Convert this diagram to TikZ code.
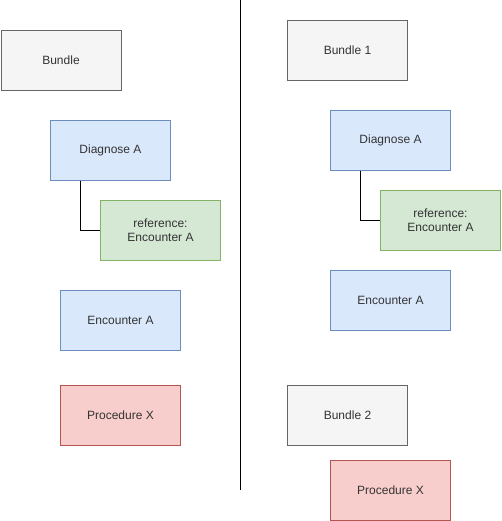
\documentclass[tikz,border=0pt]{standalone}
\usepackage{fontspec}
\setmainfont{Liberation Sans}
\definecolor{grayfill}{HTML}{F5F5F5}
\definecolor{graystroke}{HTML}{666666}
\definecolor{bluefill}{HTML}{DAE8FC}
\definecolor{bluestroke}{HTML}{6C8EBF}
\definecolor{greenfill}{HTML}{D5E8D4}
\definecolor{greenstroke}{HTML}{82B366}
\definecolor{redfill}{HTML}{F8CECC}
\definecolor{redstroke}{HTML}{B85450}
\definecolor{txt}{HTML}{333333}
\tikzset{
  box/.style={rectangle, draw, line width=1pt, minimum width=120pt, minimum height=60pt,
    inner sep=0pt, anchor=north west, align=center, text=txt,
    font=\fontsize{12}{14}\selectfont},
  graybox/.style={box, fill=grayfill, draw=graystroke},
  bluebox/.style={box, fill=bluefill, draw=bluestroke},
  greenbox/.style={box, fill=greenfill, draw=greenstroke},
  redbox/.style={box, fill=redfill, draw=redstroke},
  link/.style={line width=1pt, black},
}
\begin{document}
\begin{tikzpicture}[x=1pt, y=-1pt]
\useasboundingbox (0,0) rectangle (501,521);
% left column
\node[graybox] (bundle) at (0.5,30) {Bundle};
\node[bluebox] (diagL) at (50,120) {Diagnose A};
\node[greenbox] (refL) at (100,200) {reference:\\Encounter A};
\node[bluebox] (encL) at (60,290) {Encounter A};
\node[redbox] (procL) at (60,385) {Procedure X};
% right column
\node[graybox] (bundle1) at (287,20) {Bundle 1};
\node[bluebox] (diagR) at (330,110) {Diagnose A};
\node[greenbox] (refR) at (380,190) {reference:\\Encounter A};
\node[bluebox] (encR) at (330,270) {Encounter A};
\node[graybox] (bundle2) at (287,385) {Bundle 2};
\node[redbox] (procR) at (330,460) {Procedure X};
% divider
\coordinate (divTop) at (240,0);
\coordinate (divBot) at (240,490);
\draw[link] (divTop) -- (divBot);
% connectors
\draw[link] (diagL.south west) ++(30,0) coordinate (cL) -- (cL |- refL.west) -- (refL.west);
\draw[link] (diagR.south west) ++(30,0) coordinate (cR) -- (cR |- refR.west) -- (refR.west);
\end{tikzpicture}
\end{document}
